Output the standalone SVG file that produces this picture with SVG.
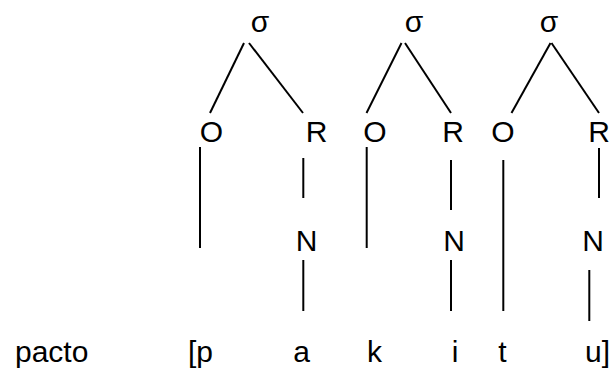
<svg xmlns="http://www.w3.org/2000/svg" width="610" height="370" viewBox="0 0 610 370">
<style>
text{font-family:"Liberation Sans",Arial,sans-serif;font-size:30px;fill:#000}
.m{text-anchor:middle}
line{stroke:#000;stroke-width:2}
</style>
<rect width="610" height="370" fill="#fff"/>
<g id="connectors">
<line x1="244" y1="43" x2="210" y2="113"/>
<line x1="249" y1="43" x2="303" y2="113"/>
<line x1="401.5" y1="43" x2="366.5" y2="113"/>
<line x1="405" y1="43" x2="451" y2="113"/>
<line x1="550.5" y1="43" x2="511.5" y2="113"/>
<line x1="551.5" y1="43" x2="599" y2="113"/>
<line x1="200" y1="147" x2="200" y2="248"/>
<line x1="303.3" y1="158" x2="303.3" y2="198"/>
<line x1="303.3" y1="260" x2="303.3" y2="311"/>
<line x1="366.7" y1="147" x2="366.7" y2="248"/>
<line x1="451" y1="160" x2="451" y2="210"/>
<line x1="451" y1="260" x2="451" y2="311"/>
<line x1="503.3" y1="160" x2="503.3" y2="311"/>
<line x1="599" y1="148" x2="599" y2="198"/>
<line x1="589.3" y1="270" x2="589.3" y2="321"/>
</g>
<g id="sigma1"><text class="m" x="260" y="32">σ</text></g>
<g id="sigma2"><text class="m" x="414" y="32">σ</text></g>
<g id="sigma3"><text class="m" x="549" y="32">σ</text></g>
<g id="O1"><text class="m" x="211.5" y="142">O</text></g>
<g id="R1"><text class="m" x="316.5" y="142">R</text></g>
<g id="O2"><text class="m" x="375" y="142">O</text></g>
<g id="R2"><text class="m" x="453" y="142">R</text></g>
<g id="O3"><text class="m" x="503" y="142">O</text></g>
<g id="R3"><text class="m" x="599" y="142">R</text></g>
<g id="N1"><text class="m" x="306.5" y="251">N</text></g>
<g id="N2"><text class="m" x="454" y="251">N</text></g>
<g id="N3"><text class="m" x="593" y="251">N</text></g>
<g id="word"><text x="15" y="362">pacto</text></g>
<g id="seg-p"><text x="188" y="362">[p</text></g>
<g id="seg-a"><text class="m" x="301.7" y="362">a</text></g>
<g id="seg-k"><text class="m" x="374.5" y="362">k</text></g>
<g id="seg-i"><text class="m" x="455" y="362">i</text></g>
<g id="seg-t"><text class="m" x="502.5" y="362">t</text></g>
<g id="seg-u"><text x="585" y="362">u]</text></g>
</svg>
